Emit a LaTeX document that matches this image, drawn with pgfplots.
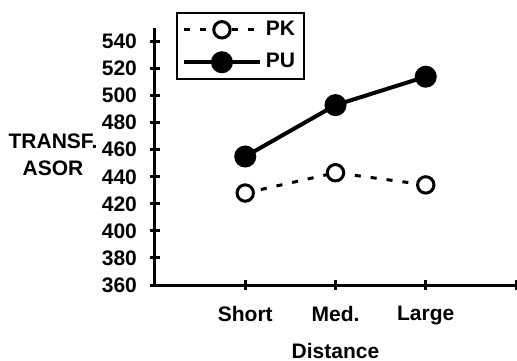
\documentclass[border=0pt]{standalone}
\usepackage{fontspec}
\setmainfont{Liberation Sans}
\usepackage{pgfplots}
\pgfplotsset{compat=1.18}
\newcommand{\lblfont}{\fontsize{10.5}{12}\selectfont\bfseries}
\begin{document}
\begin{tikzpicture}
\path[use as bounding box] (-77.5pt,-37.5pt) rectangle (181pt,142.5pt);
\begin{axis}[
  scale only axis, width=180.5pt, height=128.5pt,
  xmin=0, xmax=4, ymin=360, ymax=550,
  axis x line=bottom, axis y line=left,
  axis line style={line width=1.5pt,-},
  xtick={1,2,3,4}, xticklabels={Short,Med.,Large,{}},
  ytick={360,380,...,540},
  tick align=center, major tick length=5pt,
  tick style={line width=1.5pt, black},
  every tick label/.append style={font=\lblfont},
  yticklabel style={xshift=-3pt},
  xticklabel style={yshift=-4.5pt},
  /pgf/number format/assume math mode=true,
  xlabel={Distance},
  xlabel style={font=\lblfont, yshift=-4.5pt, inner sep=1pt},
  clip=false,
  legend cell align=left,
  legend style={at={(0.058,1.062)}, anchor=north west, draw=black, line width=1pt,
    font=\lblfont, row sep=3.5pt, inner sep=2.5pt, inner ysep=2pt},
  legend image code/.code={\draw[mark repeat=2,mark phase=2] plot coordinates {(0pt,0pt) (19pt,0pt) (38pt,0pt)};},
]
\addplot[black, line width=1.5pt, dash pattern=on 3pt off 5pt, mark=*,
  mark options={solid, fill=white, line width=1.5pt}, mark size=4.1pt]
  coordinates {(1,428) (2,443) (3,434)};
\addlegendentry{PK}
\addplot[black, line width=2pt, mark=*, mark options={solid, fill=black}, mark size=4.5pt]
  coordinates {(1,455) (2,493) (3,514)};
\addlegendentry{PU}
\node[align=center, font=\fontsize{10.5}{13.5}\selectfont\bfseries] at (rel axis cs:0,0.506) [xshift=-51pt] {TRANSF.\\ASOR};
\end{axis}
\end{tikzpicture}
\end{document}
